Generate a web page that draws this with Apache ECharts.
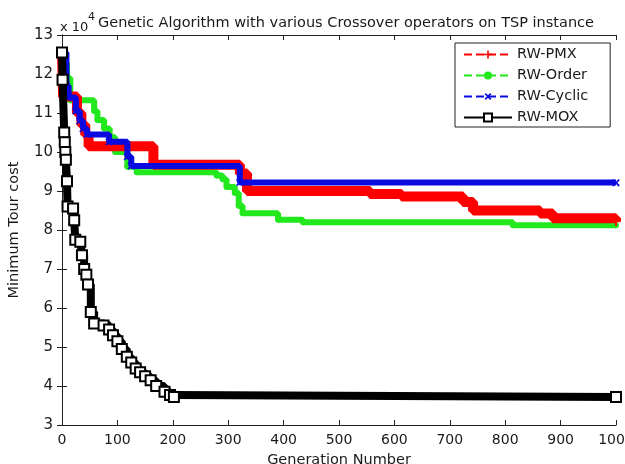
<!DOCTYPE html>
<html>
<head>
<meta charset="utf-8">
<script src="https://cdn.jsdelivr.net/npm/echarts@6/dist/echarts.min.js"></script>
<style>html,body{margin:0;padding:0;background:#fff}#c{width:625px;height:464px}</style>
</head>
<body>
<div id="c"></div>
<script>
var titleText = 'Genetic Algorithm with various Crossover operators on TSP instance';
var scaleText = 'x 10';
var scaleExp = '4';
var xName = 'Generation Number';
var yName = 'Minimum Tour cost';
var seriesNames = ['RW-PMX', 'RW-Order', 'RW-Cyclic', 'RW-MOX'];
var xTicks = [0, 100, 200, 300, 400, 500, 600, 700, 800, 900, 1000];
var yTicks = [3, 4, 5, 6, 7, 8, 9, 10, 11, 12, 13];

// [generation, min tour cost (x 10^4)]
var pmx = [[0,12.55],[2,11.42],[27,11.0],[35,10.7],[42,10.45],[48,10.15],[165,9.67],[321,9.45],[334,9.0],[556,8.92],[613,8.86],[724,8.72],[742,8.5],[863,8.42],[886,8.3],[1000,8.22]];
var order = [[0,12.55],[4,12.28],[9,11.9],[15,11.33],[58,11.05],[64,10.82],[76,10.6],[86,10.38],[96,10.0],[118,9.62],[135,9.48],[279,9.4],[290,9.3],[297,9.1],[312,8.95],[319,8.62],[326,8.43],[390,8.26],[435,8.2],[814,8.12],[1000,8.12]];
var cyclic = [[0,12.55],[8,11.7],[12,11.4],[25,11.05],[32,10.8],[38,10.6],[45,10.45],[85,10.26],[118,9.88],[125,9.64],[321,9.22],[1000,9.21]];
var mox = [[0,12.55],[1,11.85],[4,10.5],[5,10.25],[6,10.0],[7,9.8],[9,9.25],[10,8.6],[20,8.55],[22,8.25],[24,7.75],[33,7.7],[36,7.35],[40,7.0],[44,6.85],[47,6.6],[52,5.9],[58,5.6],[75,5.55],[85,5.45],[92,5.3],[100,5.15],[108,4.95],[117,4.75],[125,4.6],[133,4.45],[141,4.35],[150,4.25],[160,4.15],[170,4.0],[185,3.85],[195,3.77],[202,3.72],[1000,3.72]];

var FONT = "'DejaVu Sans', 'Liberation Sans', Arial, sans-serif";
var TXT = '#1a1a1a';
var plusPath = 'path://M4,0 H6 V4 H10 V6 H6 V10 H4 V6 H0 V4 H4 Z';

var chart = echarts.init(document.getElementById('c'), null, {renderer: 'canvas'});
chart.setOption({
  backgroundColor: '#fff',
  animation: false,
  title: [
    {text: titleText, left: 341, textAlign: 'center', top: 11,
     textStyle: {fontFamily: FONT, fontSize: 14.5, fontWeight: 'normal', color: TXT}},
    {text: scaleText, left: 60, top: 21, padding: 0,
     textStyle: {fontFamily: FONT, fontSize: 13, fontWeight: 'normal', color: TXT}},
    {text: scaleExp, left: 88, top: 12, padding: 0,
     textStyle: {fontFamily: FONT, fontSize: 11, fontWeight: 'normal', color: TXT}}
  ],
  legend: {
    orient: 'vertical', left: 455, top: 43,
    itemWidth: 48, itemHeight: 10, itemGap: 6,
    padding: [4, 22, 2, 8],
    backgroundColor: '#fff', borderColor: '#222', borderWidth: 1, borderRadius: 0,
    textStyle: {fontFamily: FONT, fontSize: 14.5, color: TXT, lineHeight: 14},
    lineStyle: {width: 2, type: 'dashed'},
    data: [
      {name: seriesNames[0]},
      {name: seriesNames[1]},
      {name: seriesNames[2]},
      {name: seriesNames[3], lineStyle: {width: 2, type: 'solid'}}
    ]
  },
  grid: {left: 62, right: 9, top: 35, bottom: 39, show: false, containLabel: false, outerBoundsMode: 'none'},
  xAxis: [
    {type: 'value', min: xTicks[0], max: xTicks[xTicks.length-1], interval: 100,
     name: xName, nameLocation: 'middle', nameGap: 28,
     nameTextStyle: {fontFamily: FONT, fontSize: 14.5, color: TXT},
     axisLine: {show: true, lineStyle: {color: '#222', width: 1}},
     axisTick: {show: true, inside: true, length: 5, lineStyle: {color: '#222'}},
     axisLabel: {fontFamily: FONT, fontSize: 14, color: TXT, margin: 8, formatter: function(v){return String(v);}},
     splitLine: {show: false}},
    {type: 'value', position: 'top', min: xTicks[0], max: xTicks[xTicks.length-1], interval: 100,
     axisLine: {show: true, lineStyle: {color: '#222', width: 1}},
     axisTick: {show: true, inside: true, length: 5, lineStyle: {color: '#222'}},
     axisLabel: {show: false}, splitLine: {show: false}}
  ],
  yAxis: [
    {type: 'value', min: yTicks[0], max: yTicks[yTicks.length-1], interval: 1,
     name: yName, nameLocation: 'middle', nameGap: 40, nameRotate: 90,
     nameTextStyle: {fontFamily: FONT, fontSize: 14.5, color: TXT},
     axisLine: {show: true, lineStyle: {color: '#222', width: 1}},
     axisTick: {show: true, inside: true, length: 5, lineStyle: {color: '#222'}},
     axisLabel: {fontFamily: FONT, fontSize: 15, color: TXT, margin: 9},
     splitLine: {show: false}},
    {type: 'value', position: 'right', min: yTicks[0], max: yTicks[yTicks.length-1], interval: 1,
     axisLine: {show: true, lineStyle: {color: '#222', width: 1}},
     axisTick: {show: true, inside: true, length: 5, lineStyle: {color: '#222'}},
     axisLabel: {show: false}, splitLine: {show: false}}
  ],
  series: [
    {name: seriesNames[0], type: 'line', step: 'end', data: pmx,
     color: '#ff0000', lineStyle: {width: 10, color: '#ff0000'},
     symbol: plusPath, symbolSize: 9, showAllSymbol: true,
     itemStyle: {color: '#ff0000'}, z: 3},
    {name: seriesNames[1], type: 'line', step: 'end', data: order,
     color: '#22e81e', lineStyle: {width: 6, color: '#22e81e'},
     symbol: 'circle', symbolSize: 6, showAllSymbol: true,
     itemStyle: {color: '#22e81e'}, z: 2},
    {name: seriesNames[2], type: 'line', step: 'end', data: cyclic,
     color: '#0a0ae0', lineStyle: {width: 6, color: '#0a0ae0'},
     symbol: plusPath, symbolRotate: 45, symbolSize: 9, showAllSymbol: true,
     itemStyle: {color: '#0a0ae0'}, z: 4},
    {name: seriesNames[3], type: 'line', step: 'end', data: mox,
     color: '#000', lineStyle: {width: 8, color: '#000'},
     symbol: 'rect', symbolSize: 10, showAllSymbol: true,
     itemStyle: {color: '#fff', borderColor: '#000', borderWidth: 2}, z: 5}
  ]
});
</script>
</body>
</html>
